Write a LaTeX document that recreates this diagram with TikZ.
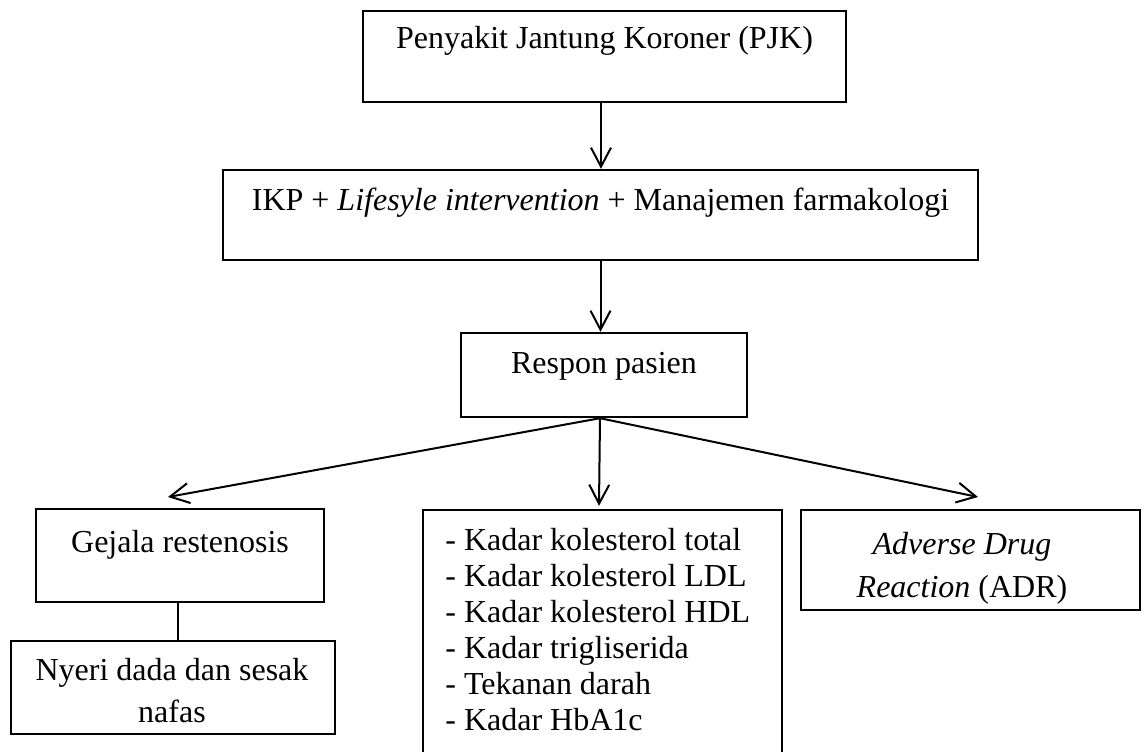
\documentclass[tikz,border=0pt]{standalone}
\usepackage{fontspec}
\setmainfont{Liberation Serif}
\usetikzlibrary{arrows.meta,calc}
\begin{document}
\begin{tikzpicture}[x=0.5pt,y=-0.5pt,
  box/.style={draw=black,line width=1.2pt,rectangle,inner sep=0pt},
  txt/.style={inner sep=0pt,font=\fontsize{16pt}{21pt}\selectfont},
  arr/.style={line width=1pt,-{Straight Barb[length=9.5pt,width=10pt]}},
  conn/.style={line width=1pt}]
\useasboundingbox (0,0) rectangle (1147,751);
\clip (0,0) rectangle (1147,751);
% boxes
\node[box,minimum width=241.5pt,minimum height=45.5pt] (b1) at (604.5,56.5) {};
\node[box,minimum width=377.5pt,minimum height=45pt] (b2) at (600.5,215) {};
\node[box,minimum width=143pt,minimum height=42pt] (b3) at (604,375) {};
\node[box,minimum width=144pt,minimum height=46.5pt] (b4) at (180,555.5) {};
\node[box,minimum width=162pt,minimum height=46.5pt] (b5) at (173,687.5) {};
\node[box,minimum width=179.5pt,minimum height=130pt] (b6) at (602.5,640) {};
\node[box,minimum width=169.5pt,minimum height=50pt] (b7) at (970.5,560) {};
% texts
\node[txt,anchor=base] (t1) at (604.5,48) {Penyakit Jantung Koroner (PJK)};
\node[txt,anchor=base] (t2) at (600.5,210) {IKP + \textit{Lifesyle intervention} + Manajemen farmakologi};
\node[txt,anchor=base] (t3) at (604,373) {Respon pasien};
\node[txt,anchor=base] (t4) at (180,552) {Gejala restenosis};
\node[txt,anchor=north,align=center] (t5) at (172,658) {Nyeri dada dan sesak\\nafas};
\node[txt,anchor=north west,align=left,font=\fontsize{16pt}{18pt}\selectfont] (t6) at (445,528) {- Kadar kolesterol total\\- Kadar kolesterol LDL\\- Kadar kolesterol HDL\\- Kadar trigliserida\\- Tekanan darah\\- Kadar HbA1c};
\node[txt,anchor=north,align=center,font=\fontsize{16pt}{21.5pt}\selectfont] (t7) at (962,532) {\textit{Adverse Drug}\\\textit{Reaction} (ADR)};
% connectors
\coordinate (s1) at ($(b1.south)+(-3.5,0)$);
\coordinate (s2) at ($(b2.south)+(0,0)$);
\coordinate (s3) at ($(b3.south)+(-4,0)$);
\coordinate (e4) at (168,497);
\coordinate (e6) at ($(b6.north)+(-3.5,-3)$);
\coordinate (e7) at (978,497);
\draw[arr] (s1) -- (s1 |- b2.north);
\draw[arr] (s2) -- (s2 |- b3.north);
\draw[arr] (s3) -- (e4);
\draw[arr] (s3) -- (e6);
\draw[arr] (s3) -- (e7);
\coordinate (g1) at ($(b4.south)+(-2,0)$);
\draw[conn] (g1) -- (g1 |- b5.north);
\end{tikzpicture}
\end{document}
